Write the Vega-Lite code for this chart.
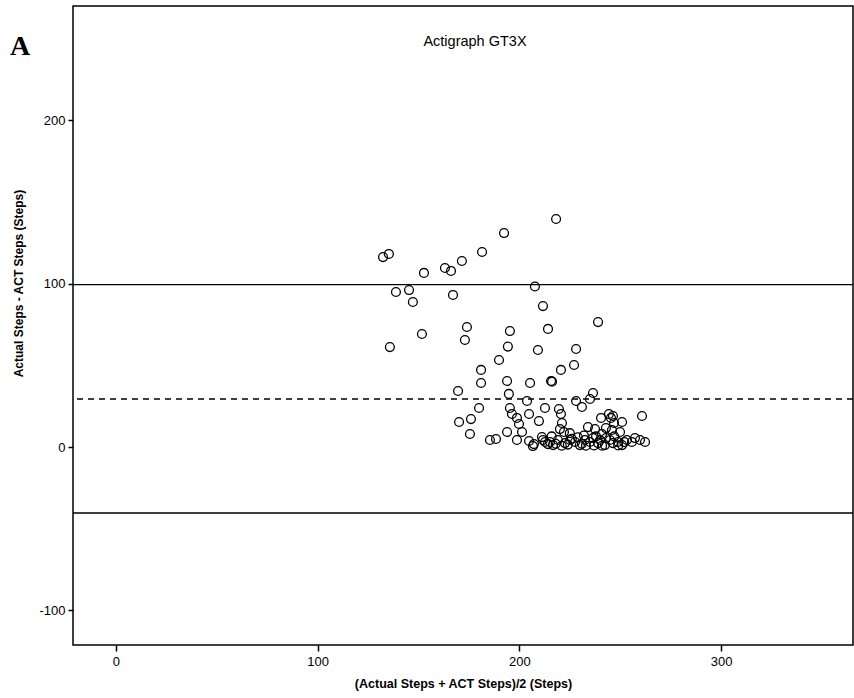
{
  "$schema": "https://vega.github.io/schema/vega-lite/v6.json",
  "autosize": "none",
  "width": 780,
  "height": 639,
  "padding": {"left": 73, "top": 6, "right": 1, "bottom": 53},
  "background": "white",
  "config": {
    "view": {"stroke": "black", "strokeWidth": 1.5},
    "font": "Liberation Sans",
    "axis": {"grid": false, "domain": false, "tickColor": "black", "labelColor": "black", "labelFont": "Liberation Sans", "labelFontSize": 13, "titleFont": "Liberation Sans", "titleFontWeight": "bold", "titleColor": "black", "tickWidth": 1.5}
  },
  "datasets": {
    "pts": [
      {"avg": 132.4, "diff": 116.3}, {"avg": 135.3, "diff": 118.2}, {"avg": 138.8, "diff": 94.9}, {"avg": 145.3, "diff": 96.1},
      {"avg": 147.2, "diff": 88.8}, {"avg": 152.7, "diff": 106.6}, {"avg": 135.8, "diff": 61.2}, {"avg": 151.7, "diff": 69.2},
      {"avg": 163.1, "diff": 109.6}, {"avg": 166.1, "diff": 107.8}, {"avg": 171.5, "diff": 113.9}, {"avg": 167.1, "diff": 93.1},
      {"avg": 181.5, "diff": 119.4}, {"avg": 192.4, "diff": 131.0}, {"avg": 218.2, "diff": 139.6}, {"avg": 174.0, "diff": 73.5},
      {"avg": 173.0, "diff": 65.5}, {"avg": 207.7, "diff": 98.3}, {"avg": 211.7, "diff": 86.3}, {"avg": 195.3, "diff": 71.0},
      {"avg": 214.2, "diff": 72.3}, {"avg": 194.3, "diff": 61.5}, {"avg": 239.0, "diff": 76.5}, {"avg": 209.2, "diff": 59.4},
      {"avg": 228.1, "diff": 60.0}, {"avg": 189.9, "diff": 53.3}, {"avg": 181.0, "diff": 47.2}, {"avg": 220.6, "diff": 47.2},
      {"avg": 227.1, "diff": 50.2}, {"avg": 181.0, "diff": 39.2}, {"avg": 193.9, "diff": 40.4}, {"avg": 205.3, "diff": 39.2},
      {"avg": 215.7, "diff": 40.4}, {"avg": 216.2, "diff": 40.0}, {"avg": 169.6, "diff": 34.3}, {"avg": 194.8, "diff": 32.5},
      {"avg": 236.5, "diff": 33.1},
      {"avg": 203.8, "diff": 28.2}, {"avg": 212.7, "diff": 23.9}, {"avg": 180.0, "diff": 23.9}, {"avg": 195.3, "diff": 23.9},
      {"avg": 196.3, "diff": 20.2}, {"avg": 198.8, "diff": 17.8}, {"avg": 204.8, "diff": 20.2}, {"avg": 209.7, "diff": 15.9},
      {"avg": 170.1, "diff": 15.3}, {"avg": 176.0, "diff": 17.1}, {"avg": 199.8, "diff": 14.1}, {"avg": 175.5, "diff": 8.0},
      {"avg": 193.9, "diff": 9.2}, {"avg": 201.3, "diff": 9.2}, {"avg": 185.4, "diff": 4.3}, {"avg": 188.4, "diff": 4.9},
      {"avg": 198.8, "diff": 4.3}, {"avg": 204.8, "diff": 3.7}, {"avg": 207.2, "diff": 1.8}, {"avg": 206.7, "diff": 0.6},
      {"avg": 211.2, "diff": 6.1}, {"avg": 212.7, "diff": 3.1}, {"avg": 214.2, "diff": 1.8},
      {"avg": 228.1, "diff": 28.2}, {"avg": 231.0, "diff": 24.5}, {"avg": 235.0, "diff": 29.4}, {"avg": 219.6, "diff": 23.3},
      {"avg": 220.6, "diff": 20.2}, {"avg": 260.8, "diff": 19.0}, {"avg": 240.5, "diff": 17.8}, {"avg": 244.4, "diff": 20.2},
      {"avg": 245.4, "diff": 17.8}, {"avg": 246.4, "diff": 19.0}, {"avg": 221.1, "diff": 14.7}, {"avg": 234.0, "diff": 12.2},
      {"avg": 237.5, "diff": 11.0}, {"avg": 246.9, "diff": 14.7}, {"avg": 250.9, "diff": 15.3}, {"avg": 242.9, "diff": 11.6},
      {"avg": 245.9, "diff": 10.4}, {"avg": 220.1, "diff": 11.0}, {"avg": 222.1, "diff": 9.2}, {"avg": 249.9, "diff": 9.2},
      {"avg": 211.7, "diff": 4.3}, {"avg": 215.2, "diff": 3.1}, {"avg": 216.7, "diff": 1.2}, {"avg": 219.1, "diff": 4.3},
      {"avg": 222.6, "diff": 2.4}, {"avg": 225.1, "diff": 4.3}, {"avg": 227.6, "diff": 3.1}, {"avg": 230.0, "diff": 1.2},
      {"avg": 232.5, "diff": 4.3}, {"avg": 235.0, "diff": 3.1}, {"avg": 236.5, "diff": 5.5}, {"avg": 239.0, "diff": 2.4},
      {"avg": 240.0, "diff": 4.3}, {"avg": 242.4, "diff": 1.2}, {"avg": 244.9, "diff": 4.3}, {"avg": 246.4, "diff": 2.4},
      {"avg": 248.9, "diff": 3.1}, {"avg": 250.9, "diff": 1.2}, {"avg": 253.3, "diff": 4.3}, {"avg": 255.8, "diff": 3.1},
      {"avg": 257.3, "diff": 5.5}, {"avg": 259.8, "diff": 4.3}, {"avg": 262.3, "diff": 3.1},
      {"avg": 218.0, "diff": 2.0}, {"avg": 221.0, "diff": 0.8}, {"avg": 224.0, "diff": 1.5}, {"avg": 226.0, "diff": 5.0},
      {"avg": 229.0, "diff": 6.0}, {"avg": 231.0, "diff": 2.0}, {"avg": 233.0, "diff": 0.8}, {"avg": 237.0, "diff": 1.0},
      {"avg": 238.0, "diff": 6.5}, {"avg": 241.0, "diff": 0.8}, {"avg": 243.0, "diff": 5.5}, {"avg": 247.0, "diff": 6.5},
      {"avg": 249.0, "diff": 1.0}, {"avg": 252.0, "diff": 3.0}, {"avg": 225.0, "diff": 8.5}, {"avg": 232.0, "diff": 7.0},
      {"avg": 241.0, "diff": 8.0}, {"avg": 216.0, "diff": 6.5}
    ],
    "lines": [
      {"value": 99.4, "kind": "Upper limit"},
      {"value": 29.4, "kind": "Mean"},
      {"value": -40.4, "kind": "Lower limit"}
    ],
    "title": [{"avg": 178, "diff": 248, "text": "Actigraph GT3X"}],
    "panel": [{"avg": -47.5, "diff": 245, "text": "A"}]
  },
  "layer": [
    {
      "data": {"name": "lines"},
      "mark": {"type": "rule", "color": "black", "strokeWidth": 1.3},
      "encoding": {
        "y": {"field": "value", "type": "quantitative", "scale": {"domain": [-121.2, 270], "nice": false, "zero": false}},
        "strokeDash": {
          "field": "kind", "type": "nominal",
          "scale": {"domain": ["Upper limit", "Mean", "Lower limit"], "range": [[1, 0], [6, 5], [1, 0]]},
          "legend": null
        }
      }
    },
    {
      "data": {"name": "pts"},
      "mark": {"type": "point", "shape": "circle", "filled": false, "color": "black", "size": 78, "strokeWidth": 1.3, "opacity": 1},
      "encoding": {
        "x": {
          "field": "avg", "type": "quantitative",
          "scale": {"domain": [-21.3, 365.4], "nice": false, "zero": false},
          "axis": {"values": [0, 100, 200, 300], "tickSize": 6, "labelPadding": 4, "title": "(Actual Steps + ACT Steps)/2 (Steps)", "titleFontSize": 12.5, "titlePadding": 9}
        },
        "y": {
          "field": "diff", "type": "quantitative",
          "scale": {"domain": [-121.2, 270], "nice": false, "zero": false},
          "axis": {"values": [-100, 0, 100, 200], "labelExpr": "replace(datum.label, '\u2212', '-')", "tickSize": 5, "labelPadding": 3, "title": "Actual Steps - ACT Steps (Steps)", "titleFontSize": 12, "titleX": -55, "titleY": 277, "titleAlign": "center", "titleBaseline": "middle", "titleAngle": -90}
        }
      }
    },
    {
      "data": {"name": "title"},
      "mark": {"type": "text", "align": "center", "baseline": "middle", "color": "black", "fontSize": 14.5, "font": "Liberation Sans"},
      "encoding": {
        "x": {"field": "avg", "type": "quantitative"},
        "y": {"field": "diff", "type": "quantitative"},
        "text": {"field": "text"}
      }
    },
    {
      "data": {"name": "panel"},
      "mark": {"type": "text", "align": "center", "baseline": "middle", "color": "black", "fontSize": 28, "font": "Liberation Serif", "fontWeight": "bold"},
      "encoding": {
        "x": {"field": "avg", "type": "quantitative"},
        "y": {"field": "diff", "type": "quantitative"},
        "text": {"field": "text"}
      }
    }
  ]
}
